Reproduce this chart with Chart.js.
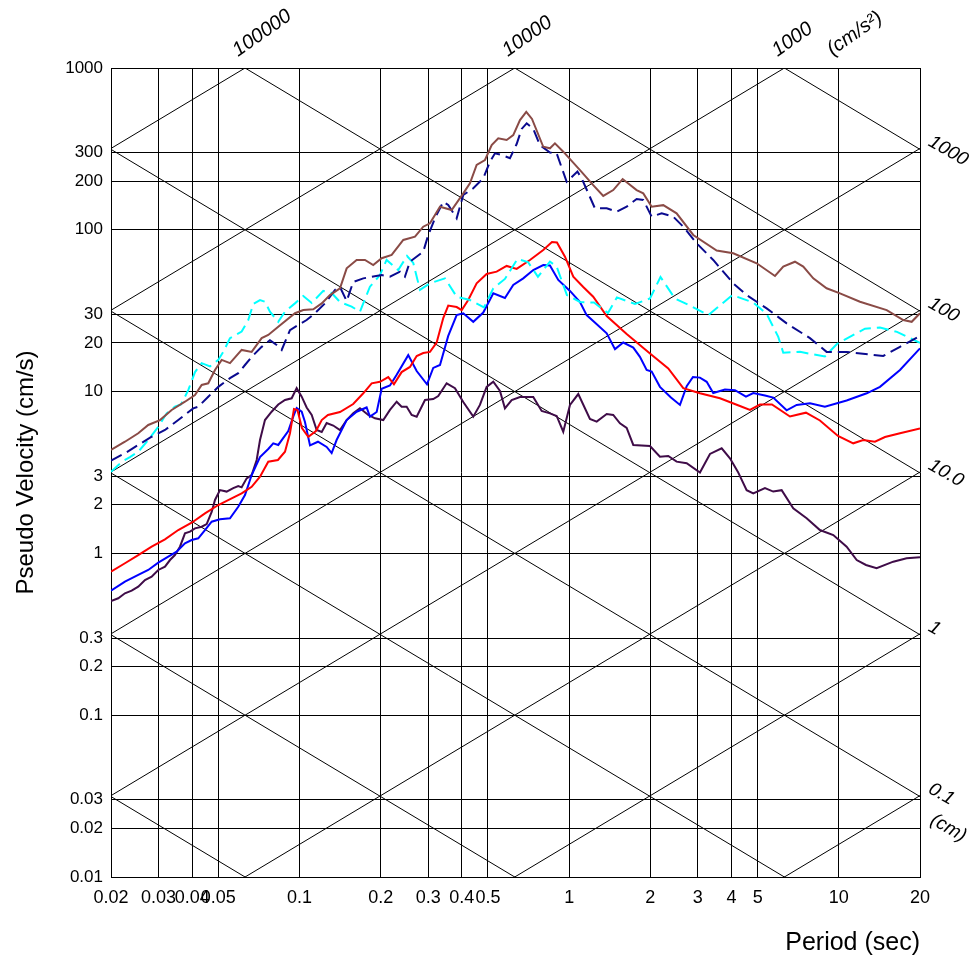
<!DOCTYPE html>
<html>
<head>
<meta charset="utf-8">
<script src="https://cdn.jsdelivr.net/npm/chart.js@4.4.0/dist/chart.umd.min.js"></script>
<style>
  html, body { margin: 0; padding: 0; background: #fff; }
</style>
</head>
<body>
<canvas id="psv" width="972" height="960"></canvas>
<script>
// axes: period (sec) and pseudo velocity (cm/s)
const periodTicks = [0.02, 0.03, 0.04, 0.05, 0.1, 0.2, 0.3, 0.4, 0.5, 1, 2, 3, 4, 5, 10, 20];
const periodLabels = ['0.02', '0.03', '0.04', '0.05', '0.1', '0.2', '0.3', '0.4', '0.5', '1', '2', '3', '4', '5', '10', '20'];
const velocityTicks = [0.01, 0.02, 0.03, 0.1, 0.2, 0.3, 1, 2, 3, 10, 20, 30, 100, 200, 300, 1000];
const velocityLabels = ['0.01', '0.02', '0.03', '0.1', '0.2', '0.3', '1', '2', '3', '10', '20', '30', '100', '200', '300', '1000'];

// tripartite diagonals: constant acceleration (cm/s2) and displacement (cm)
const accelLines = [0.01, 0.1, 1, 10, 100, 1000, 10000, 100000];
const dispLines = [0.0001, 0.001, 0.01, 0.1, 1, 10, 100, 1000];
const accelLabelValues = [100000, 10000, 1000];
const accelLabelText = ['100000', '10000', '1000'];
const dispLabelValues = [1000, 100, 10, 1, 0.1];
const dispLabelText = ['1000', '100', '10.0', '1', '0.1'];

// spectra, [period, velocity]
const brownPts = [[0.02,4.36],[0.02253,4.90],[0.02524,5.53],[0.02749,6.22],[0.03039,6.67],[0.03357,7.70],[0.03761,8.66],[0.04097,9.53],[0.04338,11.0],[0.04589,11.25],[0.0486,13.6],[0.05146,15.7],[0.05524,15.0],[0.06103,18.1],[0.06647,17.6],[0.0724,21.4],[0.07659,22.4],[0.08342,25.2],[0.09621,30.5],[0.1033,31.9],[0.1125,32.3],[0.1209,35.1],[0.1297,39.5],[0.1413,43.5],[0.1496,57.8],[0.1629,65.1],[0.1749,65.1],[0.1877,60.6],[0.2017,66.7],[0.2197,69.9],[0.2426,86.5],[0.2681,90.7],[0.2877,104.5],[0.3047,109.7],[0.3319,138.9],[0.3667,132.6],[0.4049,168],[0.4286,194],[0.4539,252],[0.4873,270],[0.5161,334],[0.5459,368],[0.5864,359],[0.6204,385],[0.6571,477],[0.6933,535],[0.7281,484],[0.8016,326],[0.8488,319],[0.8858,342],[0.9509,304],[1.097,234],[1.228,189],[1.338,162],[1.457,176],[1.579,206],[1.779,176],[1.883,168],[2.023,139],[2.234,142],[2.503,126.5],[2.885,92.9],[3.524,74.5],[4.059,71.6],[4.959,62.1],[5.798,51.8],[6.222,59.2],[6.876,63.5],[7.382,59.2],[8.04,50.1],[9.01,43.5],[10.1,40.5],[11.98,35.9],[15.05,31.9],[17.34,27.7],[18.63,27.0],[20,30.5]];

const navyPts = [[0.02,3.75],[0.02253,4.16],[0.02524,4.68],[0.0283,5.26],[0.03171,5.79],[0.03552,6.67],[0.04036,7.88],[0.04213,8.07],[0.04589,9.30],[0.05,10.7],[0.05524,12.1],[0.05928,13.0],[0.06278,14.6],[0.06647,16.4],[0.0724,18.9],[0.0777,20.8],[0.0823,19.4],[0.0859,18.1],[0.0922,24.0],[0.099,25.8],[0.1063,27.7],[0.1141,30.5],[0.1243,35.1],[0.1354,42.5],[0.1413,44.3],[0.1496,36.3],[0.1582,47.6],[0.1724,50.1],[0.2017,52.5],[0.2165,51.3],[0.2359,55.1],[0.246,51.3],[0.2568,63.5],[0.2877,73.2],[0.3003,92.9],[0.318,117.8],[0.3413,149.2],[0.3561,142.3],[0.3827,117.8],[0.4049,164.1],[0.441,180.5],[0.4803,208],[0.5086,264],[0.5308,297],[0.5621,290],[0.6032,277],[0.6387,339],[0.6667,420],[0.6957,455],[0.736,420],[0.7793,334],[0.8488,300],[0.8988,297],[0.979,198],[1.073,229],[1.113,208],[1.246,135.8],[1.378,135.8],[1.5,129.4],[1.634,139],[1.779,155],[1.883,152.8],[2.023,120.5],[2.203,126.5],[2.432,120.5],[2.649,104.5],[2.97,82.5],[3.422,65.1],[4.059,46.7],[4.552,39.5],[5.4,32.7],[6.405,26.4],[7.815,21.4],[9.01,17.6],[10.69,17.6],[14.61,16.6],[16.86,18.9],[20,22.1]];

const cyanPts = [[0.02,3.19],[0.0219,3.67],[0.02351,3.94],[0.02524,4.25],[0.02749,5.02],[0.02995,6.07],[0.03217,7.34],[0.03452,8.07],[0.03635,8.32],[0.03868,10.2],[0.04097,13.2],[0.04338,15.0],[0.04656,14.3],[0.05,15.7],[0.05217,17.6],[0.05524,21.4],[0.06103,23.5],[0.06457,27.7],[0.0674,34.8],[0.07138,36.8],[0.07447,35.9],[0.0777,31.2],[0.0834,27.0],[0.08836,31.2],[0.0962,35.1],[0.1033,39.0],[0.111,35.3],[0.1225,41.9],[0.1316,40.7],[0.1413,35.8],[0.1561,33.5],[0.1676,31.2],[0.1825,44.5],[0.1988,52.5],[0.2104,65.1],[0.2324,56.4],[0.2504,68.9],[0.2642,62.4],[0.2798,42.5],[0.3047,46.7],[0.3463,50.1],[0.3827,38.6],[0.4286,36.8],[0.4831,33.1],[0.5232,43.5],[0.5779,49.7],[0.6432,66.0],[0.7034,63.2],[0.7661,51.3],[0.8488,63.5],[0.8988,59.2],[0.981,39.5],[1.097,35.8],[1.236,35.5],[1.393,30.6],[1.504,38.2],[1.754,34.8],[1.994,37.6],[2.181,51.1],[2.468,37.6],[2.805,34.0],[3.281,29.7],[4.032,39.5],[4.817,35.5],[5.4,30.2],[5.963,21.8],[6.222,17.4],[7.177,17.6],[8.88,16.5],[9.84,19.7],[12.5,24.5],[14.21,24.9],[16.43,23.4],[20,20.0]];

const redPts = [[0.02,0.771],[0.02253,0.869],[0.02524,0.977],[0.0283,1.10],[0.03171,1.222],[0.03552,1.395],[0.03982,1.548],[0.04462,1.769],[0.05,1.991],[0.05603,2.19],[0.06103,2.35],[0.06647,2.58],[0.07138,2.98],[0.07659,3.69],[0.08319,3.78],[0.08836,4.25],[0.0922,5.53],[0.09539,7.81],[0.09829,7.70],[0.1021,5.96],[0.1078,5.26],[0.1151,5.71],[0.1209,6.67],[0.1275,7.17],[0.1413,7.48],[0.1582,8.38],[0.1724,9.76],[0.1852,11.25],[0.1988,11.5],[0.2134,12.3],[0.224,11.1],[0.2392,13.2],[0.2568,14.2],[0.272,16.6],[0.2877,17.3],[0.3047,17.6],[0.3226,20.1],[0.3413,28.5],[0.3561,34.0],[0.3827,33.3],[0.3995,31.9],[0.4224,36.8],[0.4539,46.7],[0.4943,53.3],[0.5384,55.1],[0.5864,59.8],[0.6387,57.3],[0.7155,65.1],[0.8016,75.0],[0.8635,84.1],[0.9011,83.5],[0.9648,68.2],[1.036,51.3],[1.128,44.3],[1.228,38.6],[1.378,29.3],[1.634,22.7],[1.994,17.2],[2.331,13.9],[2.649,10.5],[3.055,9.76],[3.624,9.09],[4.298,8.15],[4.683,7.70],[5.1,8.32],[5.649,8.32],[6.589,7.02],[7.552,7.41],[8.51,6.63],[9.93,5.32],[11.31,4.79],[12.32,5.02],[13.61,4.90],[14.83,5.24],[16.86,5.53],[20,5.91]];

const bluePts = [[0.02,0.588],[0.02253,0.669],[0.02524,0.736],[0.02749,0.790],[0.02995,0.876],[0.03262,0.954],[0.03503,1.024],[0.03761,1.154],[0.03982,1.21],[0.04213,1.24],[0.04462,1.395],[0.04724,1.57],[0.05071,1.625],[0.05524,1.648],[0.05928,1.943],[0.06278,2.296],[0.06647,3.05],[0.07138,3.94],[0.07659,4.42],[0.07993,4.79],[0.08342,4.68],[0.09086,5.71],[0.09482,7.00],[0.09762,7.92],[0.1019,7.51],[0.1048,6.49],[0.1094,4.65],[0.1171,4.90],[0.1261,4.55],[0.1316,4.17],[0.1373,5.02],[0.1496,6.67],[0.1629,7.51],[0.1774,7.98],[0.1825,7.00],[0.1933,7.48],[0.2017,10.4],[0.2165,10.9],[0.2293,12.7],[0.2531,16.8],[0.272,13.4],[0.297,11.1],[0.3133,14.0],[0.3319,14.6],[0.3561,22.1],[0.3827,29.7],[0.4049,30.5],[0.441,27.0],[0.4803,30.8],[0.5232,40.5],[0.5779,37.9],[0.6204,45.6],[0.6757,50.1],[0.736,56.4],[0.8016,60.6],[0.8488,60.2],[0.9112,49.0],[1.007,41.9],[1.097,35.8],[1.161,29.7],[1.257,26.4],[1.378,22.9],[1.479,18.3],[1.587,20.1],[1.729,18.7],[1.83,16.4],[1.938,13.6],[2.023,13.3],[2.171,10.7],[2.385,9.19],[2.576,8.27],[2.728,10.8],[2.878,12.3],[3.055,12.2],[3.236,11.5],[3.422,9.80],[3.782,10.3],[4.12,10.2],[4.525,9.30],[4.817,9.80],[5.322,9.46],[5.712,9.19],[6.405,7.66],[6.977,8.27],[7.815,8.47],[8.88,8.07],[10.69,8.81],[12.69,9.76],[14.21,10.7],[16.86,13.6],[20,18.5]];

const purplePts = [[0.02,0.508],[0.02128,0.528],[0.02253,0.567],[0.02386,0.588],[0.02524,0.623],[0.02673,0.685],[0.0283,0.718],[0.02995,0.790],[0.03171,0.828],[0.0331,0.910],[0.03452,0.977],[0.03604,1.10],[0.03761,1.331],[0.03926,1.362],[0.04097,1.429],[0.04338,1.462],[0.04527,1.519],[0.04724,1.803],[0.0486,2.14],[0.05071,2.46],[0.05369,2.41],[0.05681,2.53],[0.05928,2.61],[0.06103,2.56],[0.0637,2.91],[0.06647,3.05],[0.06938,3.78],[0.07138,5.02],[0.07447,6.67],[0.07882,7.51],[0.08342,8.32],[0.08836,8.87],[0.09354,9.09],[0.09762,10.5],[0.1019,9.30],[0.1063,7.98],[0.111,7.17],[0.1158,5.79],[0.1209,5.63],[0.1261,6.40],[0.1334,6.17],[0.1413,5.79],[0.1496,6.67],[0.1582,7.34],[0.1676,7.88],[0.1799,7.17],[0.1905,6.84],[0.2045,6.67],[0.2165,7.70],[0.2293,8.66],[0.2392,8.07],[0.2497,8.07],[0.2606,7.17],[0.272,7.00],[0.292,8.87],[0.3133,9.00],[0.327,9.39],[0.3513,11.25],[0.3772,10.5],[0.4049,8.63],[0.441,7.00],[0.4668,8.27],[0.4943,10.7],[0.5232,11.5],[0.5539,10.1],[0.5779,7.88],[0.612,8.87],[0.6571,9.26],[0.736,9.26],[0.7908,7.59],[0.8488,7.34],[0.8988,7.07],[0.9509,5.65],[1.007,8.27],[1.081,9.66],[1.194,6.77],[1.265,6.52],[1.378,7.27],[1.457,7.17],[1.543,6.37],[1.634,5.96],[1.729,4.68],[1.994,4.61],[2.171,3.96],[2.331,4.00],[2.503,3.69],[2.728,3.61],[3.055,3.16],[3.328,4.12],[3.678,4.46],[3.947,3.87],[4.226,3.19],[4.552,2.46],[4.817,2.35],[5.322,2.53],[5.712,2.41],[6.138,2.46],[6.776,1.90],[7.597,1.648],[8.51,1.395],[9.54,1.299],[10.69,1.10],[11.65,0.910],[12.61,0.848],[13.81,0.809],[15.92,0.889],[17.84,0.933],[20,0.946]];

const TWO_PI = 2 * Math.PI;
const sans = '"Liberation Sans", Arial, sans-serif';

function toXY(pts) {
  return pts.map(p => ({ x: p[0], y: p[1] }));
}

function series(pts, color, dash) {
  return {
    data: toXY(pts),
    borderColor: color,
    borderWidth: 2,
    borderDash: dash || [],
    pointRadius: 0,
    tension: 0,
    fill: false
  };
}

function rotatedText(ctx, txt, px, py, deg) {
  ctx.save();
  ctx.translate(px, py);
  ctx.rotate(deg * Math.PI / 180);
  ctx.fillText(txt, 0, 0);
  ctx.restore();
}

// diagonal grid of the tripartite paper plus its labels
const tripartite = {
  id: 'tripartite',
  beforeDatasetsDraw(chart) {
    const { ctx, chartArea: a, scales: { x, y } } = chart;
    const t0 = x.min, t1 = x.max;
    ctx.save();
    ctx.beginPath();
    ctx.rect(a.left, a.top, a.right - a.left, a.bottom - a.top);
    ctx.clip();
    ctx.strokeStyle = '#000';
    ctx.lineWidth = 1;
    ctx.beginPath();
    accelLines.forEach(acc => {
      ctx.moveTo(x.getPixelForValue(t0), y.getPixelForValue(acc * t0 / TWO_PI));
      ctx.lineTo(x.getPixelForValue(t1), y.getPixelForValue(acc * t1 / TWO_PI));
    });
    dispLines.forEach(d => {
      ctx.moveTo(x.getPixelForValue(t0), y.getPixelForValue(TWO_PI * d / t0));
      ctx.lineTo(x.getPixelForValue(t1), y.getPixelForValue(TWO_PI * d / t1));
    });
    ctx.stroke();
    ctx.restore();
  },
  afterDraw(chart) {
    const { ctx, chartArea: a, scales: { x, y } } = chart;
    ctx.save();
    ctx.fillStyle = '#000';
    ctx.font = 'italic 20px ' + sans;
    ctx.textAlign = 'left';
    ctx.textBaseline = 'alphabetic';
    let lastX = 0;
    accelLabelValues.forEach((acc, i) => {
      // where the acceleration line meets the top border
      const px = x.getPixelForValue(TWO_PI * y.max / acc);
      lastX = px;
      rotatedText(ctx, accelLabelText[i], px - 7, a.top - 11, -35);
    });
    rotatedText(ctx, '(cm/s\u00B2)', lastX + 48, a.top - 12, -35);

    ctx.font = 'italic 19px ' + sans;
    ctx.textBaseline = 'middle';
    let lastY = 0;
    dispLabelValues.forEach((d, i) => {
      // where the displacement line meets the right border
      const py = y.getPixelForValue(TWO_PI * d / x.max);
      lastY = py;
      rotatedText(ctx, dispLabelText[i], a.right + 10, py - 9, 30);
    });
    rotatedText(ctx, '(cm)', a.right + 12, lastY + 22, 30);
    ctx.restore();
  }
};

const ctx = document.getElementById('psv').getContext('2d');
new Chart(ctx, {
  type: 'line',
  data: {
    datasets: [
      series(brownPts, '#8a4b46'),
      series(navyPts, '#0a0a8f', [12, 6]),
      series(cyanPts, '#00ffff', [12, 6]),
      series(redPts, '#ff0000'),
      series(bluePts, '#0000ff'),
      series(purplePts, '#3f0c48')
    ]
  },
  options: {
    responsive: false,
    animation: false,
    layout: { padding: { top: 68, right: 52, left: 0, bottom: 0 } },
    plugins: {
      legend: { display: false },
      tooltip: { enabled: false }
    },
    scales: {
      x: {
        type: 'logarithmic',
        min: 0.02,
        max: 20,
        afterBuildTicks: s => { s.ticks = periodTicks.map(v => ({ value: v })); },
        afterFit: s => { s.height = 83; },
        grid: { color: '#000', lineWidth: 1, drawTicks: false },
        border: { color: '#000', width: 1 },
        ticks: {
          autoSkip: false,
          maxRotation: 0,
          padding: 10,
          color: '#000',
          font: { family: sans, size: 18 },
          callback: (v, i) => periodLabels[i]
        },
        title: {
          display: true,
          text: 'Period (sec)',
          align: 'end',
          color: '#000',
          font: { family: sans, size: 25 },
          padding: { top: 0, bottom: 2 }
        }
      },
      y: {
        type: 'logarithmic',
        min: 0.01,
        max: 1000,
        afterBuildTicks: s => { s.ticks = velocityTicks.map(v => ({ value: v })); },
        afterFit: s => { s.width = 111; },
        grid: { color: '#000', lineWidth: 1, drawTicks: false },
        border: { color: '#000', width: 1 },
        ticks: {
          autoSkip: false,
          padding: 8,
          color: '#000',
          font: { family: sans, size: 17 },
          callback: (v, i) => velocityLabels[i]
        },
        title: {
          display: true,
          text: 'Pseudo Velocity (cm/s)',
          color: '#000',
          font: { family: sans, size: 24 },
          padding: { top: 12, bottom: 0 }
        }
      }
    }
  },
  plugins: [tripartite]
});
</script>
</body>
</html>
